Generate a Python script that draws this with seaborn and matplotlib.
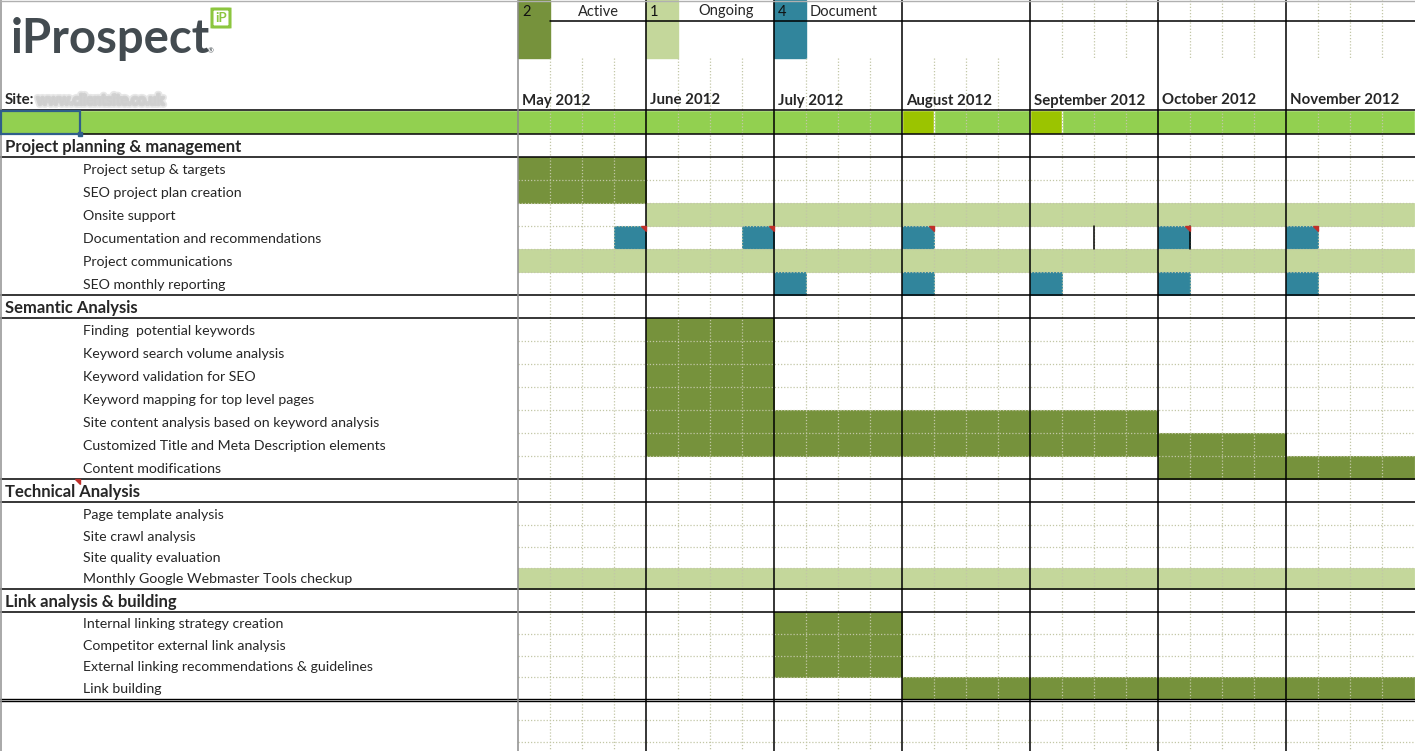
import numpy as np
import pandas as pd
import matplotlib
matplotlib.use("Agg")
import matplotlib.pyplot as plt
import matplotlib.patheffects as pe
import seaborn as sns
from matplotlib.patches import Rectangle, FancyBboxPatch, Polygon

# ---------------- data ----------------
months = ["May 2012", "June 2012", "July 2012", "August 2012",
          "September 2012", "October 2012", "November 2012"]
weeks_per_month = 4

legend_codes = ["2", "1", "4"]
legend_labels = ["Active", "Ongoing", "Document"]

section_names = ["Project planning & management", "Semantic Analysis",
                 "Technical Analysis", "Link analysis & building"]
section_tasks = [
    ["Project setup & targets", "SEO project plan creation", "Onsite support",
     "Documentation and recommendations", "Project communications",
     "SEO monthly reporting"],
    ["Finding  potential keywords", "Keyword search volume analysis",
     "Keyword validation for SEO", "Keyword mapping for top level pages",
     "Site content analysis based on keyword analysis",
     "Customized Title and Meta Description elements", "Content modifications"],
    ["Page template analysis", "Site crawl analysis", "Site quality evaluation",
     "Monthly Google Webmaster Tools checkup"],
    ["Internal linking strategy creation", "Competitor external link analysis",
     "External linking recommendations & guidelines", "Link building"],
]

bar_task = ["Project setup & targets", "SEO project plan creation", "Onsite support",
            "Documentation and recommendations", "Documentation and recommendations",
            "Documentation and recommendations", "Documentation and recommendations",
            "Documentation and recommendations",
            "Project communications",
            "SEO monthly reporting", "SEO monthly reporting", "SEO monthly reporting",
            "SEO monthly reporting", "SEO monthly reporting",
            "Finding  potential keywords", "Keyword search volume analysis",
            "Keyword validation for SEO", "Keyword mapping for top level pages",
            "Site content analysis based on keyword analysis",
            "Customized Title and Meta Description elements", "Content modifications",
            "Monthly Google Webmaster Tools checkup",
            "Internal linking strategy creation", "Competitor external link analysis",
            "External linking recommendations & guidelines", "Link building"]
bar_status = ["Active", "Active", "Ongoing",
              "Document", "Document", "Document", "Document", "Document",
              "Ongoing",
              "Document", "Document", "Document", "Document", "Document",
              "Active", "Active", "Active", "Active", "Active", "Active", "Active",
              "Ongoing",
              "Active", "Active", "Active", "Active"]
bar_start = [0, 0, 4, 3, 7, 12, 20, 24, 0, 8, 12, 16, 20, 24,
             4, 4, 4, 4, 4, 4, 20, 0, 8, 8, 8, 12]
bar_weeks = [4, 4, 24, 1, 1, 1, 1, 1, 28, 1, 1, 1, 1, 1,
             4, 4, 4, 4, 16, 20, 8, 28, 4, 4, 4, 16]

highlight_weeks = [12, 16]           # brighter cells in the green band
comment_task = "Documentation and recommendations"
site_text = "www.clientsite.co.uk"

# ---------------- style ----------------
colors = {"Active": "#76923C", "Ongoing": "#C4D79B", "Document": "#31859C"}
band_color = "#92D050"
band_hi = "#9BC400"
grid_c = "#C2C7A6"

sns.set_theme(style="white")
plt.rcParams["font.family"] = ["Lato", "DejaVu Sans"]

W, H = 1415, 751
X0, WPX = 518.0, 32.0          # chart origin (px) and px per week
n_weeks = len(months) * weeks_per_month


def px(x):
    """pixel x -> week units"""
    return (x - X0) / WPX


fig = plt.figure(figsize=(W / 100, H / 100), dpi=100)
ax = fig.add_axes([0, 0, 1, 1])
ax.set_xlim(px(0), px(W))
ax.set_ylim(H, 0)
ax.axis("off")

# ---------------- row layout ----------------
row_h = [24] + [23] * 17 + [22, 20.5, 21, 23, 22.5, 21.5, 21.5, 21.5] + [21.5] * 3
edges = 110 + np.concatenate([[0], np.cumsum(row_h)])
row_kind, row_label = ["band"], [""]
for s, tasks in zip(section_names, section_tasks):
    row_kind.append("header"); row_label.append(s)
    for t in tasks:
        row_kind.append("task"); row_label.append(t)
while len(row_kind) < len(row_h):
    row_kind.append("blank"); row_label.append("")
task_row = {lab: i for i, (k, lab) in enumerate(zip(row_kind, row_label)) if k == "task"}

df = pd.DataFrame({"task": bar_task, "status": bar_status,
                   "start": bar_start, "weeks": bar_weeks})
df["top"] = df["task"].map(lambda t: edges[task_row[t]])
df["bot"] = df["task"].map(lambda t: edges[task_row[t] + 1])

# green band row
ax.barh((edges[0] + edges[1]) / 2, px(W) - px(0), left=px(0),
        height=edges[1] - edges[0], color=band_color, zorder=1)
ax.barh([(edges[0] + edges[1]) / 2] * len(highlight_weeks), [1] * len(highlight_weeks),
        left=highlight_weeks, height=edges[1] - edges[0], color=band_hi, zorder=1.1)

# gantt bars
bar_cols = df["status"].map(colors)
ax.barh((df["top"] + df["bot"]) / 2, df["weeks"], left=df["start"],
        height=df["bot"] - df["top"], color=bar_cols, edgecolor=bar_cols,
        linewidth=0.6, zorder=1)

# comment markers (red corner triangles)
for _, r in df[df["task"] == comment_task].iterrows():
    xr = r["start"] + r["weeks"]
    ax.add_patch(Polygon([[xr - 5 / WPX, r["top"]], [xr, r["top"]], [xr, r["top"] + 5]],
                         closed=True, color="#C0302A", zorder=4))
ax.add_patch(Polygon([[px(75), edges[16]], [px(80), edges[16]], [px(80), edges[16] + 5]],
                     closed=True, color="#C0302A", zorder=4))

# ---------------- grid ----------------
dot = (0, (1, 1.5))
for k in range(1, n_weeks):
    if k % weeks_per_month == 0:
        continue
    ax.plot([k, k], [edges[0], H], ls=dot, lw=0.9, color=grid_c, zorder=2)
    if k < 4 * weeks_per_month:
        ax.plot([k, k], [58, 110], ls=dot, lw=0.9, color=grid_c, zorder=2)
    else:
        ax.plot([k, k], [0, 58], ls=dot, lw=0.9, color=grid_c, zorder=2)

for i in range(1, len(row_h)):
    above, below = row_kind[i - 1], row_kind[i]
    if above in ("task", "blank") and below in ("task", "blank") and not (above == "task" and below == "blank"):
        ax.plot([0, px(W)], [edges[i], edges[i]], ls=dot, lw=0.9,
                color=grid_c, zorder=2)

solid_y = [edges[0], edges[1]]
for i, k in enumerate(row_kind):
    if k == "header":
        solid_y += [edges[i], edges[i + 1]]
for y in sorted(set(solid_y)):
    ax.plot([px(0), px(W)], [y, y], color="black", lw=1.1, zorder=3)
last_task = max(task_row.values())
for y in (edges[last_task + 1], edges[last_task + 1] + 2.2):
    ax.plot([px(0), px(W)], [y, y], color="black", lw=1.0, zorder=3)
ax.plot([px(550), px(W)], [21, 21], color="black", lw=1.1, zorder=3)

for m in range(1, len(months)):
    x = m * weeks_per_month
    ax.plot([x, x], [0, H], color="black", lw=1.1, zorder=3)
ax.plot([0, 0], [0, H], color="#8c8c8c", lw=1.1, zorder=3)
ax.plot([px(0.8), px(0.8)], [0, H], color="#9a9a9a", lw=1.2, zorder=3)
ax.plot([px(0), px(W)], [0.6, 0.6], color="#b0b0b0", lw=1.0, zorder=3)

r = task_row[comment_task]
for x in (px(1094), 21):
    ax.plot([x, x], [edges[r], edges[r + 1]], color="black", lw=1.1, zorder=3)

# ---------------- header: legend + months ----------------
for j, (code, lab) in enumerate(zip(legend_codes, legend_labels)):
    x0 = j * weeks_per_month
    ax.add_patch(Rectangle((x0, 0), 1, 58, color=colors[lab], zorder=1))
    ax.text(x0 + 4 / WPX, 11.5, code, ha="left", va="center", fontsize=10.5, color="#111111", zorder=5)
    if lab == "Document":
        ax.text(x0 + 1 + 4 / WPX, 11.5, lab, ha="left", va="center", fontsize=10.5, zorder=5)
    else:
        ax.text(x0 + 2.5, 11.5, lab, ha="center", va="center", fontsize=10.5, zorder=5)

for m, name in enumerate(months):
    ax.text(m * weeks_per_month + 4 / WPX, 100.5, name, ha="left", va="center",
            fontsize=10.8, fontweight="bold", zorder=5)

# ---------------- left labels ----------------
for i, (k, lab) in enumerate(zip(row_kind, row_label)):
    yc = (edges[i] + edges[i + 1]) / 2
    if k == "header":
        ax.text(px(5), yc + 1.5, lab, ha="left", va="center", fontsize=12.0,
                fontweight="bold", zorder=5)
    elif k == "task":
        ax.text(px(83), yc + 1.2, lab, ha="left", va="center", fontsize=10.2, zorder=5)

# selected cell
ax.add_patch(Rectangle((px(1), edges[0] + 0.5), 79 / WPX, edges[1] - edges[0] - 1,
                       fill=False, ec="#2F5F8A", lw=1.6, zorder=6))
ax.add_patch(Rectangle((px(78), edges[1] - 2), 4 / WPX, 4, color="#2F5F8A", zorder=6))

# logo
ax.text(px(11), 53, "iProspect", ha="left", va="baseline", fontsize=34,
        fontweight="bold", color="#434B50", zorder=5)
ax.text(px(208), 53, "®", ha="left", va="baseline", fontsize=5, color="#434B50", zorder=5)
ax.add_patch(FancyBboxPatch((px(212), 9), 18 / WPX, 18,
                            boxstyle="round,pad=0,rounding_size=0.08",
                            fill=False, ec="#8CC63F", lw=2.2, zorder=5))
ax.text(px(221), 18.5, "iP", ha="center", va="center", fontsize=9.5,
        fontweight="bold", color="#8CC63F", zorder=5)

# site line (blurred address)
ax.text(px(5), 100.5, "Site:", ha="left", va="center", fontsize=10.8, fontweight="bold", zorder=5)
ax.text(px(37), 100.5, site_text, ha="left", va="center", fontsize=10, color="#d0d0d0",
        alpha=0.9, zorder=5,
        path_effects=[pe.Stroke(linewidth=5, foreground="#e2e2e2", alpha=0.8),
                      pe.Stroke(linewidth=2.5, foreground="#cccccc", alpha=0.8),
                      pe.Normal()])

fig.savefig("out.png", dpi=100)
